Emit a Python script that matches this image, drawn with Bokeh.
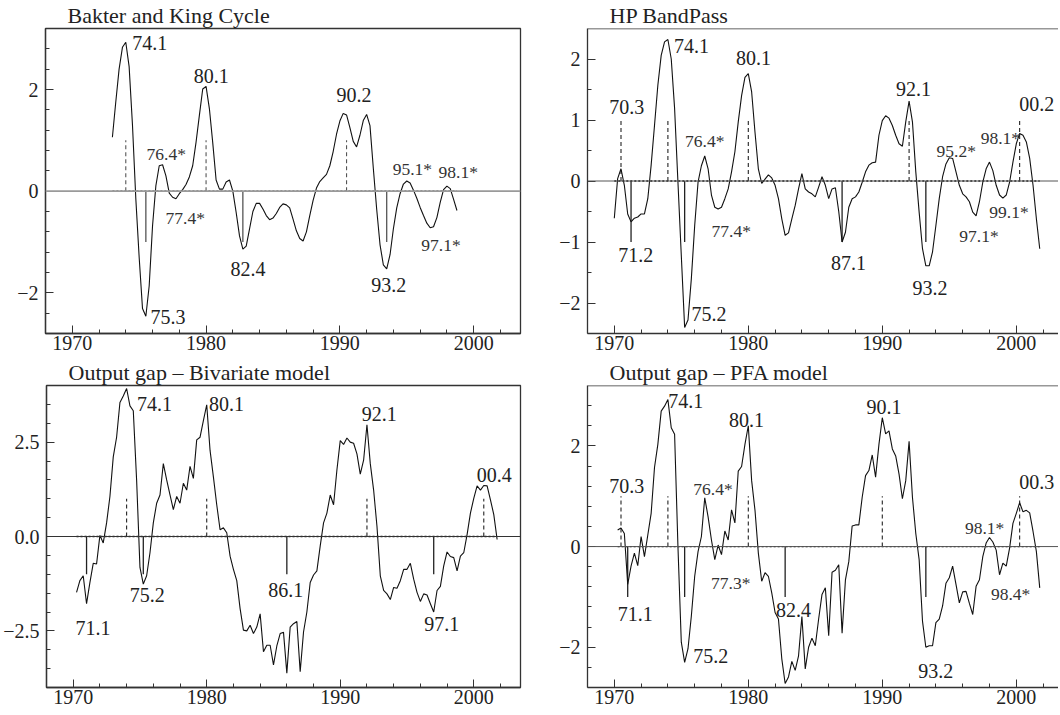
from bokeh.plotting import figure
from bokeh.layouts import column, row
from bokeh.models import FixedTicker, Span, CustomJSTickFormatter
from bokeh.core.properties import value
from bokeh.embed import file_html
from bokeh.resources import INLINE

FONT = "Liberation Serif"

# ---------------- data ----------------
X_MAJOR = [1970, 1980, 1990, 2000]
X_MINOR = list(range(1968, 2005, 2))

# Panel 1: Baxter and King cycle, quarterly from 1973Q1
bk_start = 1973.0
bk_values = [
    1.06, 1.75, 2.40, 2.83,
    2.93, 2.45, 1.30, -0.15,
    -1.30, -2.31, -2.46, -1.86,
    -0.68, 0.11, 0.50, 0.52,
    0.30, -0.04, -0.12, -0.15,
    -0.05, 0.03, 0.13, 0.28,
    0.50, 0.96, 1.49, 2.01,
    2.06, 1.62, 0.95, 0.22,
    0.04, 0.04, 0.18, 0.22,
    0.00, -0.42, -0.88, -1.14,
    -1.08, -0.74, -0.40, -0.24,
    -0.24, -0.35, -0.48, -0.56,
    -0.53, -0.44, -0.32, -0.25,
    -0.27, -0.33, -0.55, -0.78,
    -0.93, -0.98, -0.80, -0.48,
    -0.18, 0.06, 0.19, 0.26,
    0.33, 0.50, 0.78, 1.12,
    1.38, 1.53, 1.50, 1.25,
    0.98, 0.87, 1.10, 1.39,
    1.51, 1.29, 0.45, -0.35,
    -1.05, -1.45, -1.53, -1.25,
    -0.74, -0.33, -0.05, 0.14,
    0.20, 0.16, 0.02, -0.14,
    -0.32, -0.48, -0.63, -0.72,
    -0.70, -0.52, -0.22, 0.03,
    0.10, 0.05, -0.16, -0.38,
]
bk_peaks = [1974.0, 1980.0, 1990.5]
bk_troughs = [1975.5, 1982.75, 1993.5]
bk_label_text = ["74.1", "80.1", "76.4*", "77.4*", "75.3", "82.4", "90.2", "95.1*", "98.1*", "97.1*", "93.2"]
bk_label_x = [1974.48, 1979.08, 1975.55, 1976.97, 1975.85, 1981.82, 1989.74, 1993.95, 1997.38, 1996.09, 1992.35]
bk_label_y = [2.92, 2.26, 0.74, -0.53, -2.47, -1.53, 1.90, 0.44, 0.37, -1.05, -1.84]

# Panel 2: HP band-pass, quarterly from 1970Q1
hp_start = 1970.0
hp_values = [
    -0.61, 0.04, 0.20, -0.07,
    -0.54, -0.67, -0.61, -0.59,
    -0.54, -0.54, -0.29, 0.26,
    0.91, 1.57, 2.06, 2.28,
    2.32, 2.00, 1.19, -0.02,
    -1.22, -2.40, -2.28, -1.60,
    -0.73, -0.02, 0.25, 0.41,
    0.20, -0.23, -0.43, -0.46,
    -0.43, -0.29, -0.13, 0.15,
    0.48, 0.97, 1.40, 1.70,
    1.76, 1.46, 0.80, 0.20,
    -0.04, 0.03, 0.10, 0.05,
    -0.07, -0.29, -0.62, -0.89,
    -0.85, -0.62, -0.40, -0.13,
    0.12, -0.13, -0.18, -0.21,
    -0.26, -0.10, 0.07, -0.07,
    -0.29, -0.13, -0.11, -0.50,
    -1.00, -0.84, -0.43, -0.29,
    -0.26, -0.18, -0.02, 0.15,
    0.26, 0.30, 0.31, 0.75,
    0.99, 1.07, 1.03, 0.91,
    0.75, 0.61, 0.57, 0.97,
    1.31, 0.97, 0.15, -0.51,
    -1.11, -1.39, -1.39, -1.16,
    -0.73, -0.29, 0.07, 0.28,
    0.38, 0.37, 0.15, -0.07,
    -0.21, -0.26, -0.34, -0.51,
    -0.57, -0.34, -0.02, 0.20,
    0.31, 0.17, -0.07, -0.23,
    -0.28, -0.23, -0.02, 0.31,
    0.61, 0.78, 0.75, 0.64,
    0.37, -0.07, -0.62, -1.11,
]
hp_peaks = [1970.5, 1974.0, 1980.0, 1992.0, 2000.25]
hp_troughs = [1971.25, 1975.25, 1987.0, 1993.25]
hp_label_text = ["70.3", "74.1", "80.1", "76.4*", "77.4*", "71.2", "75.2", "92.1", "00.2", "95.2*", "98.1*", "99.1*", "97.1*", "87.1", "93.2"]
hp_label_x = [1969.63, 1974.46, 1979.08, 1975.28, 1977.26, 1970.30, 1975.77, 1991.02, 2000.22, 1994.05, 1997.34, 1997.99, 1995.75, 1986.17, 1992.26]
hp_label_y = [1.21, 2.22, 2.02, 0.65, -0.82, -1.21, -2.18, 1.51, 1.26, 0.50, 0.70, -0.50, -0.90, -1.34, -1.75]

# Panel 3: output gap, bivariate model, quarterly from 1970Q2
bv_start = 1970.25
bv_values = [
    -1.48, -1.17, -1.04,
    -1.78, -1.22, -0.71, -0.73,
    0.03, -0.17, 0.36, 1.06,
    2.11, 2.63, 3.55, 3.72,
    3.92, 3.46, 3.33, 1.49,
    -0.82, -1.26, -1.04, -0.43,
    0.36, 0.88, 1.10, 1.93,
    1.50, 1.10, 0.71, 1.06,
    0.88, 1.41, 1.23, 1.86,
    1.54, 2.56, 2.63, 3.07,
    3.49, 2.28, 1.58, 0.84,
    0.18, 0.23, 0.10, -0.52,
    -0.87, -1.17, -1.91, -2.48,
    -2.50, -2.35, -2.57, -2.40,
    -2.05, -3.05, -2.88, -2.88,
    -3.40, -2.90, -2.57, -2.54,
    -3.62, -2.40, -2.31, -2.25,
    -3.58, -2.53, -2.00, -1.22,
    -1.02, -0.91, -0.25, 0.36,
    0.62, 1.10, 0.84, 1.76,
    2.54, 2.44, 2.61, 2.50,
    2.47, 2.19, 1.65, 2.02,
    2.96, 1.93, 1.23, 0.27,
    -1.04, -1.43, -1.52, -1.67,
    -1.35, -1.37, -1.17, -0.87,
    -0.87, -0.71, -1.13, -1.48,
    -1.72, -1.52, -1.55, -1.78,
    -2.00, -1.43, -1.32, -0.78,
    -0.41, -0.53, -0.56, -0.91,
    -0.52, -0.43, 0.05, 0.62,
    1.01, 1.34, 1.23, 1.35,
    1.34, 0.97, 0.58, -0.08,
]
bv_peaks = [1974.0, 1980.0, 1992.0, 2000.75]
bv_troughs = [1971.0, 1975.25, 1986.0, 1997.0]
bv_label_text = ["74.1", "80.1", "75.2", "71.1", "86.1", "92.1", "00.4", "97.1"]
bv_label_x = [1974.78, 1980.17, 1974.23, 1970.17, 1984.60, 1991.61, 2000.23, 1996.29]
bv_label_y = [3.50, 3.50, -1.55, -2.42, -1.42, 3.24, 1.62, -2.31]

# Panel 4: output gap, PFA model, quarterly from 1970Q2
pfa_start = 1970.25
pfa_values = [
    0.33, 0.37, 0.26,
    -0.75, -0.39, -0.13, -0.38,
    0.20, -0.20, 0.23, 0.66,
    1.57, 2.03, 2.69, 2.79,
    2.92, 2.36, 2.23, 0.00,
    -1.90, -2.30, -2.03, -1.38,
    -0.59, -0.10, 0.20, 0.97,
    0.59, 0.13, -0.26, 0.03,
    -0.16, 0.31, 0.13, 0.73,
    0.47, 1.50, 1.59, 2.03,
    2.40, 1.31, 0.72, -0.13,
    -0.69, -0.52, -0.59, -0.92,
    -1.31, -1.44, -2.23, -2.72,
    -2.59, -2.28, -2.46, -2.17,
    -1.39, -2.43, -2.00, -1.82,
    -1.97, -1.44, -0.95, -0.82,
    -1.77, -0.51, -0.47, -0.36,
    -1.72, -0.66, -0.30, 0.41,
    0.43, 0.43, 0.98, 1.41,
    1.51, 1.82, 1.38, 2.03,
    2.56, 2.24, 2.30, 1.94,
    1.80, 1.44, 0.95, 1.31,
    2.09, 0.98, 0.26, -0.26,
    -1.48, -2.00, -1.97, -1.97,
    -1.51, -1.44, -1.18, -0.73,
    -0.62, -0.39, -0.75, -1.12,
    -0.90, -0.89, -1.13, -1.35,
    -0.79, -0.66, -0.20, 0.07,
    0.18, 0.09, -0.07, -0.56,
    -0.33, -0.39, -0.03, 0.46,
    0.66, 0.87, 0.69, 0.72,
    0.67, 0.30, -0.10, -0.82,
]
pfa_peaks = [1970.5, 1974.0, 1980.0, 1990.0, 2000.25]
pfa_troughs = [1971.0, 1975.25, 1982.75, 1993.25]
pfa_label_text = ["70.3", "74.1", "80.1", "76.4*", "77.3*", "71.1", "75.2", "82.4", "90.1", "00.3", "98.1*", "98.4*", "93.2"]
pfa_label_x = [1969.63, 1974.03, 1978.56, 1975.90, 1977.22, 1970.25, 1975.90, 1982.07, 1988.83, 2000.22, 1996.17, 1998.11, 1992.69]
pfa_label_y = [1.21, 2.89, 2.52, 1.15, -0.72, -1.34, -2.17, -1.27, 2.78, 1.28, 0.36, -0.95, -2.47]

titles = ["Bakter and King Cycle", "HP BandPass", "Output gap \u2013 Bivariate model", "Output gap \u2013 PFA model"]

MARK_LEN = 1.0


def quarters(start, n):
    return [start + 0.25 * i for i in range(n)]


def make_panel(title, start, vals, peaks, troughs, ltext, lx, ly,
               yr, ymajor, yminor, digits, width, height, xend,
               mbl, mbr, mbt, mbb, boxed, zero_color, zero_w, mark_color):
    p = figure(width=width, height=height, x_range=(1968, xend), y_range=yr,
               output_backend="svg", toolbar_location=None,
               min_border_left=mbl, min_border_right=mbr,
               min_border_top=mbt, min_border_bottom=mbb,
               background_fill_color="white", border_fill_color="white")
    p.title.text = title
    p.title.text_font = FONT
    p.title.text_font_size = "22px"
    p.title.text_font_style = "normal"
    p.title.text_color = "#222222"
    p.title.align = "left"
    p.title.offset = 22
    p.title.standoff = 1
    p.grid.visible = False
    if boxed:
        p.outline_line_color = "#333333"
        p.outline_line_width = 1.3
    else:
        p.outline_line_color = None
        p.add_layout(Span(location=yr[1], dimension="width", line_color="#333333", line_width=1.3))

    p.xaxis.ticker = FixedTicker(ticks=X_MAJOR, minor_ticks=X_MINOR)
    p.yaxis.ticker = FixedTicker(ticks=ymajor, minor_ticks=yminor)
    p.yaxis.formatter = CustomJSTickFormatter(
        args=dict(d=digits),
        code="return tick.toFixed(d).replace('-', '\\u2212');")
    for ax in (p.xaxis[0], p.yaxis[0]):
        ax.major_tick_in = 8
        ax.major_tick_out = 0
        ax.minor_tick_in = 4
        ax.minor_tick_out = 0
        ax.axis_line_color = "#333333"
        ax.axis_line_width = 1.3
        ax.major_tick_line_color = "#333333"
        ax.minor_tick_line_color = "#333333"
        ax.major_label_text_font = FONT
        ax.major_label_text_font_size = "20px"
        ax.major_label_text_color = "#222222"
    p.xaxis.major_label_standoff = 2
    p.yaxis.major_label_standoff = 7

    xs = quarters(start, len(vals))
    # zero line across the plot and dotted zero over the sample
    p.add_layout(Span(location=0, dimension="width", line_color=zero_color, line_width=zero_w))
    p.line([xs[0], xs[-1]], [0, 0], line_color="#111111", line_width=1.3, line_dash="2 2")

    # turning-point markers
    p.segment(x0=peaks, y0=[0] * len(peaks), x1=peaks, y1=[MARK_LEN] * len(peaks),
              line_color=mark_color, line_width=1.1, line_dash="4 3")
    p.segment(x0=troughs, y0=[0] * len(troughs), x1=troughs, y1=[-MARK_LEN] * len(troughs),
              line_color=mark_color, line_width=1.3)

    p.line(xs, vals, line_color="#111111", line_width=1.1)

    plain = [i for i, t in enumerate(ltext) if "*" not in t]
    star = [i for i, t in enumerate(ltext) if "*" in t]
    p.text(x=[lx[i] for i in plain], y=[ly[i] for i in plain], text=[ltext[i] for i in plain],
           text_font=value(FONT), text_font_size="20px", text_color="#222222",
           text_align="left", text_baseline="middle")
    p.text(x=[lx[i] for i in star], y=[ly[i] for i in star], text=[ltext[i] for i in star],
           text_font=value(FONT), text_font_size="17.5px", text_color="#333333",
           text_align="left", text_baseline="middle")
    return p


Y14 = [-2.4, -2.0, -1.6, -1.2, -0.8, -0.4, 0, 0.4, 0.8, 1.2, 1.6, 2.0, 2.4, 2.8]
Y2 = [-2, -1.5, -1, -0.5, 0, 0.5, 1, 1.5, 2]
Y3 = [-3.5, -3, -2.5, -2, -1.5, -1, -0.5, 0, 0.5, 1, 1.5, 2, 2.5, 3, 3.5]

p1 = make_panel(titles[0], bk_start, bk_values, bk_peaks, bk_troughs,
                bk_label_text, bk_label_x, bk_label_y,
                (-2.8, 3.2), [-2, 0, 2], Y14, 0, 545, 357, 2003.5,
                45, 25, 28, 24, True, "#9a9a9a", 1.6, "#555555")
p2 = make_panel(titles[1], hp_start, hp_values, hp_peaks, hp_troughs,
                hp_label_text, hp_label_x, hp_label_y,
                (-2.5, 2.5), [-2, -1, 0, 1, 2], Y2, 0, 513, 357, 2003.15,
                42, 0, 28, 24, False, "#555555", 1.0, "#222222")
p3 = make_panel(titles[2], bv_start, bv_values, bv_peaks, bv_troughs,
                bv_label_text, bv_label_x, bv_label_y,
                (-4, 4), [-2.5, 0, 2.5], Y3, 1, 545, 354, 2003.5,
                46, 25, 25, 24, True, "#333333", 1.0, "#222222")
p4 = make_panel(titles[3], pfa_start, pfa_values, pfa_peaks, pfa_troughs,
                pfa_label_text, pfa_label_x, pfa_label_y,
                (-2.8, 3.2), [-2, 0, 2], Y14, 0, 513, 354, 2003.15,
                42, 0, 25, 24, False, "#555555", 1.0, "#222222")

layout = column(row(p1, p2), row(p3, p4))

open("out.html", "w").write(file_html(layout, INLINE, title="Business cycle"))
